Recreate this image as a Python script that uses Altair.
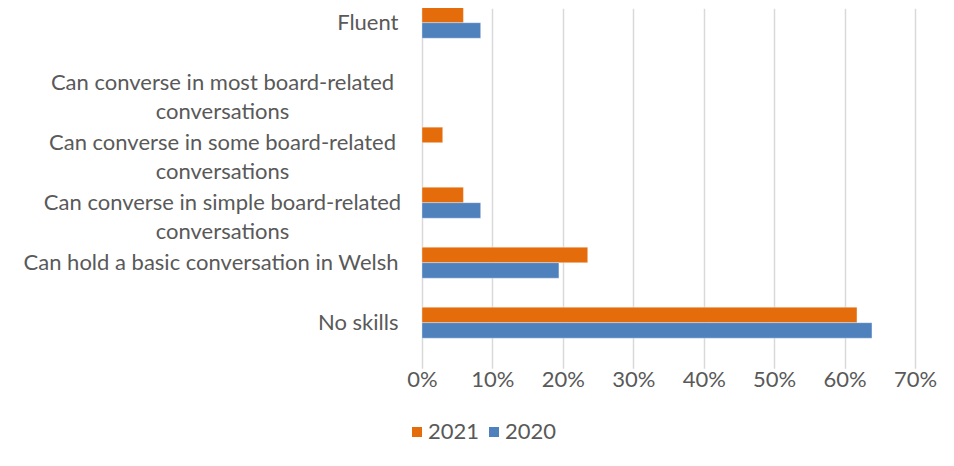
import altair as alt
import pandas as pd

categories = [
    "Fluent",
    "Can converse in most board-related\nconversations",
    "Can converse in some board-related\nconversations",
    "Can converse in simple board-related\nconversations",
    "Can hold a basic conversation in Welsh",
    "No skills",
]
years = ["2021", "2020"]
values_2021 = [0.0588, 0.0, 0.0294, 0.0588, 0.2353, 0.6176]
values_2020 = [0.0833, 0.0, 0.0, 0.0833, 0.1944, 0.6389]
x_ticks = [0.0, 0.1, 0.2, 0.3, 0.4, 0.5, 0.6, 0.7]
colors = ["#E46C0A", "#4F81BD"]

rows = []
for c, a, b in zip(categories, values_2021, values_2020):
    rows.append({"category": c, "year": "2021", "share": a})
    rows.append({"category": c, "year": "2020", "share": b})
df = pd.DataFrame(rows)

FONT = "Lato"
GRAY = "#595959"
FS = 22

multi = "indexof(datum.value, '\\n') > 0"
label_expr = f"{multi} ? split(datum.value, '\\n') : datum.value"

chart = (
    alt.Chart(df)
    .transform_filter("datum.share > 0")
    .mark_bar(stroke="white", strokeOpacity=0.35, strokeWidth=1)
    .encode(
        x=alt.X(
            "share:Q",
            scale=alt.Scale(domain=[0, 0.7], nice=False),
            axis=alt.Axis(
                values=x_ticks, format=".0%", title=None, grid=True,
                gridColor="#D9D9D9", gridWidth=1.5, domain=False, ticks=False,
                labelFlush=False, labelPadding=16, labelFont=FONT,
                labelFontSize=FS, labelColor=GRAY,
            ),
        ),
        y=alt.Y(
            "category:N",
            scale=alt.Scale(domain=categories, range=[-15.3, 344.7],
                            paddingInner=0.483, paddingOuter=0.2417),
            axis=alt.Axis(
                title=None, ticks=False, domain=False, grid=False,
                labelExpr=label_expr, labelLineHeight=29, labelFont=FONT,
                labelFontSize=FS, labelColor=GRAY, labelLimit=0,
                labelAlign={"condition": {"test": multi, "value": "center"}, "value": "right"},
                labelPadding={"condition": {"test": multi, "value": 200}, "value": 24},
            ),
        ),
        yOffset=alt.YOffset("year:N", sort=years, scale=alt.Scale(domain=years)),
        color=alt.Color(
            "year:N",
            scale=alt.Scale(domain=years, range=colors),
            legend=alt.Legend(
                title=None, orient="none", legendX=-16, legendY=413,
                direction="horizontal", symbolType="square", symbolSize=100,
                symbolStrokeWidth=0, labelFont=FONT, labelFontSize=FS,
                labelColor=GRAY, labelOffset=0, columnPadding=3, padding=0,
            ),
        ),
    )
    .properties(
        width=493, height=345,
        padding={"left": 414, "top": 0, "right": 25, "bottom": 100},
        autosize=alt.AutoSizeParams(type="none"),
    )
    .configure_view(stroke=None)
)

chart.save("out.html", embed_options={"renderer": "svg", "actions": False})
